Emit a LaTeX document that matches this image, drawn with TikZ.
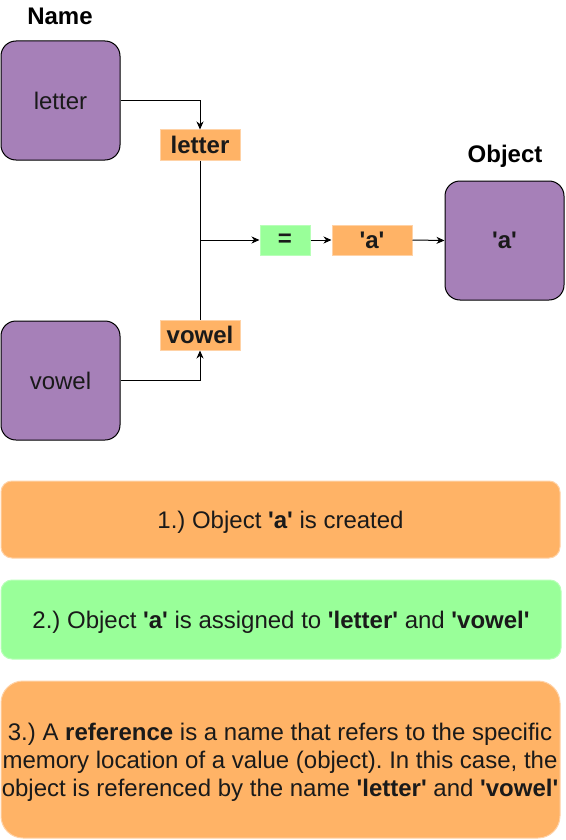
\documentclass[tikz,border=0pt]{standalone}
\usepackage{fontspec}
\setmainfont{Liberation Sans}
\usetikzlibrary{arrows.meta}
\frenchspacing
\definecolor{purp}{HTML}{A680B8}
\definecolor{orng}{HTML}{FFB366}
\definecolor{orngline}{HTML}{FFD2A6}
\definecolor{grn}{HTML}{99FF99}
\definecolor{grnline}{HTML}{B8FFB8}
\definecolor{txt}{HTML}{1A1A1A}
\newcommand{\sq}{\textquotesingle}
\tikzset{
  big/.style={font=\fontsize{24}{28}\selectfont, text=txt},
  namebox/.style={big, draw=black, line width=1pt, fill=purp, rounded corners=15pt,
    minimum width=119pt, minimum height=119pt, inner sep=0pt},
  lbl/.style={big, font=\fontsize{24}{28}\selectfont\bfseries, draw=orngline, line width=1pt, fill=orng,
    minimum width=80pt, minimum height=30pt, inner sep=0pt},
  eqbox/.style={big, font=\fontsize{24}{28}\selectfont\bfseries, draw=grnline, line width=1pt, fill=grn,
    minimum width=50pt, minimum height=30pt, inner sep=0pt},
  head/.style={big, font=\fontsize{24}{28}\selectfont\bfseries, text=black},
  note/.style={big, line width=1pt, align=center, inner sep=0pt},
  conn/.style={line width=1pt, black},
  arr/.style={conn, -{Stealth[length=8pt,width=7pt,inset=2.5pt]}}
}
\begin{document}
\begin{tikzpicture}[x=1pt,y=-1pt]
\useasboundingbox (0,0) rectangle (565,840);
% headings
\node[head] (namehd) at (60,16) {Name};
\node[head] (objhd) at (505,156) {Object};
% name boxes
\node[namebox] (letterbox) at (60.5,100.5) {letter};
\node[namebox] (vowelbox) at (60.5,380.5) {vowel};
% labels
\node[lbl] (letterlbl) at (200,145) {letter};
\node[lbl] (vowellbl) at (200,335) {vowel};
\node[eqbox] (eq) at (285,240) {=};
\node[lbl] (aval) at (372,240) {\sq a\sq};
\node[namebox, font=\fontsize{24}{28}\selectfont\bfseries] (obj) at (504.5,240.5) {\sq a\sq};
% connectors
\draw[arr] (letterbox.east) -| (letterlbl.north);
\draw[arr] (vowelbox.east) -| (vowellbl.south);
\draw[conn] (letterlbl.south) -- (vowellbl.north);
\coordinate (junc) at (200,240);
\draw[arr] (junc) -- (eq.west);
\draw[arr] (eq.east) -- (aval.west);
\draw[arr] (aval.east) -- (obj.west);
% notes
\draw[draw=orngline, fill=orng, line width=1pt, rounded corners=11pt] (1,481) rectangle (560,558);
\node[note] (note1) at (280.5,522) {1.) Object \textbf{\sq a\sq} is created};
\draw[draw=grnline, fill=grn, line width=1pt, rounded corners=11pt] (1,580) rectangle (561,659);
\node[note] (note2) at (281,622) {2.) Object \textbf{\sq a\sq} is assigned to \textbf{\sq letter\sq} and \textbf{\sq vowel\sq}};
\draw[draw=orngline, fill=orng, line width=1pt, rounded corners=22pt] (1,681) rectangle (560,838);
\node[note] (note3) at (280,762) {3.) A \textbf{reference} is a name that refers to the specific\\
memory location of a value (object). In this case, the\\
object is referenced by the name \textbf{\sq letter\sq} and \textbf{\sq vowel\sq}};
\end{tikzpicture}
\end{document}
